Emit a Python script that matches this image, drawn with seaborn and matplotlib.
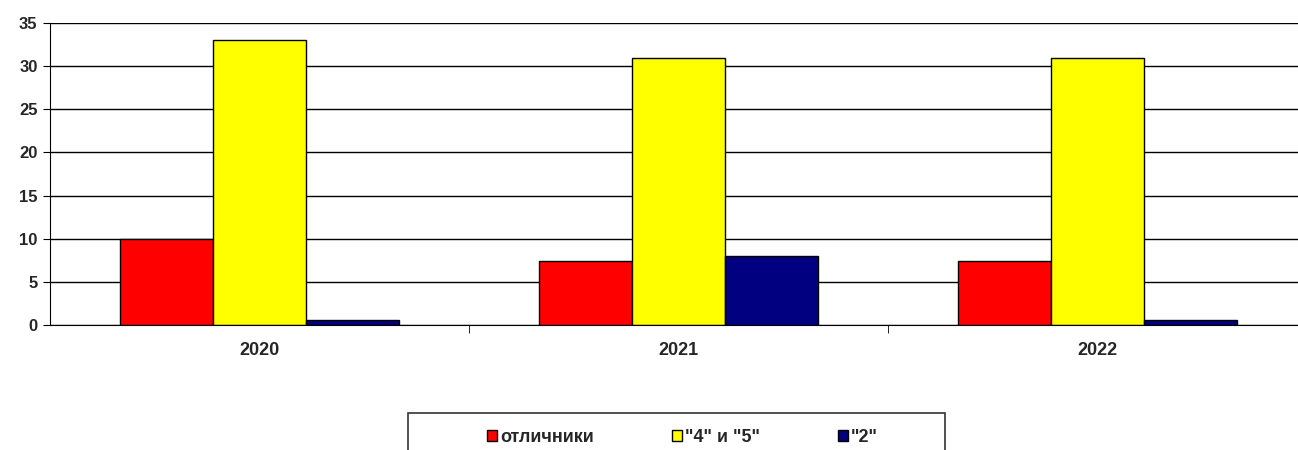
import pandas as pd
import numpy as np
import matplotlib.pyplot as plt
import seaborn as sns

sns.set_style('white')
plt.rcParams['font.family'] = ['Liberation Sans', 'DejaVu Sans']
plt.rcParams['font.weight'] = 'bold'

# Datos
anios = ['2020', '2021', '2022']
series = ['отличники', '"4" и "5"', '"2"']
otlichniki = [10, 7.4, 7.4]
chetyre_pyat = [33, 31, 31]
dvoyki = [0.6, 8, 0.6]
colores = ['#FF0000', '#FFFF00', '#000080']

df = pd.DataFrame({
    'anio': anios * 3,
    'serie': [series[0]] * 3 + [series[1]] * 3 + [series[2]] * 3,
    'valor': otlichniki + chetyre_pyat + dvoyki,
})

W, H = 1298, 450
fig = plt.figure(figsize=(W / 100, H / 100), dpi=100)
ax = fig.add_axes([50 / W, 125 / H, 1257 / W, 302 / H])

sns.barplot(data=df, x='anio', y='valor', hue='serie', palette=colores,
            width=0.666, edgecolor='black', linewidth=1, saturation=1, ax=ax)

ax.set_ylim(0, 35)
ax.set_xlim(-0.5, 2.5)
ax.set_yticks(range(0, 36, 5))
ax.yaxis.grid(True, color='black', linewidth=1)
ax.set_axisbelow(True)
ax.set_xlabel('')
ax.set_ylabel('')
for s in ['top', 'right']:
    ax.spines[s].set_visible(False)
ax.spines['left'].set_color('black')
ax.spines['bottom'].set_color('black')
ax.tick_params(axis='y', left=True, length=5, color='black', labelsize=12, pad=4)
ax.tick_params(axis='x', bottom=False, labelsize=13, pad=8.5)
ax.set_xticks([0.5, 1.5], minor=True)
ax.tick_params(axis='x', which='minor', bottom=True, length=6, color='black')
for lbl in ax.get_xticklabels() + ax.get_yticklabels():
    lbl.set_fontweight('bold')

# Leyenda: caja aparte y entradas sin marco
ax.get_legend().remove()
caja = plt.Rectangle((408 / W, -20 / H), (945 - 408) / W, (20 + 450 - 413) / H,
                     transform=fig.transFigure, facecolor='white', edgecolor='#333333',
                     linewidth=1.2, zorder=1)
fig.patches.append(caja)
handles = [plt.Rectangle((0, 0), 1, 1, facecolor=c, edgecolor='black', linewidth=1) for c in colores]
leg = fig.legend(handles, series, loc='center left', bbox_to_anchor=(487 / W, 1 - 437 / H),
                 ncol=3, frameon=False,
                 handlelength=0.55, handleheight=0.55, handletextpad=0.17,
                 columnspacing=4.33, borderpad=0, borderaxespad=0,
                 prop={'size': 13, 'weight': 'bold'})
leg.set_zorder(2)

fig.savefig('out.png', dpi=100)
